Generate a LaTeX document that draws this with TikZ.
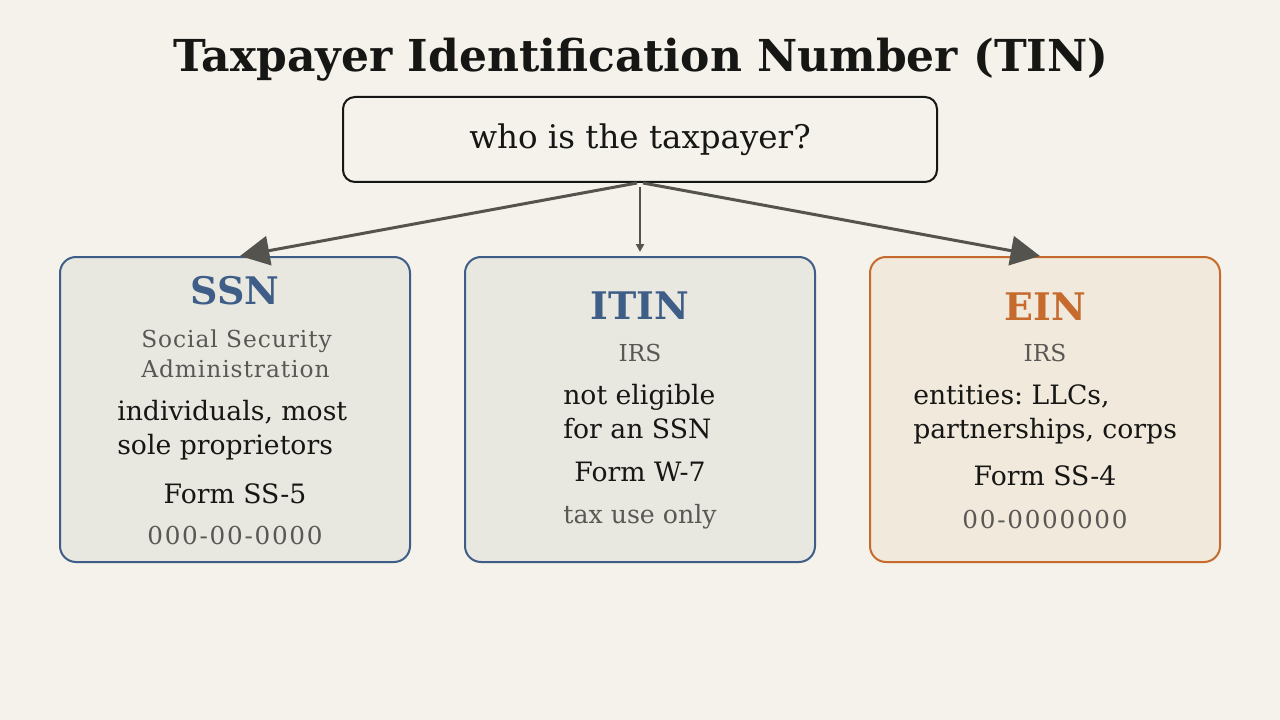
\documentclass[tikz,border=0pt]{standalone}
\usepackage{fontspec}
\setmainfont{DejaVu Serif}
\usetikzlibrary{arrows.meta}
\definecolor{bg}{HTML}{F4F2EB}
\definecolor{ink}{HTML}{161614}
\definecolor{blu}{HTML}{3F5E87}
\definecolor{org}{HTML}{C66A2E}
\definecolor{gry}{HTML}{55534E}
\definecolor{txtg}{HTML}{5A5855}
\definecolor{fillb}{HTML}{E8E7E0}
\definecolor{fillo}{HTML}{F1E9DC}
\newcommand{\pxf}[1]{\fontsize{#1}{#1}\selectfont}
\frenchspacing
\begin{document}
\begin{tikzpicture}[x=0.75pt,y=-0.75pt,
  card/.style={draw, line width=1.5pt, rounded corners=12pt, minimum width=262.5pt, minimum height=228.75pt, inner sep=0pt},
  bcard/.style={card, draw=blu, fill=fillb},
  ocard/.style={card, draw=org, fill=fillo},
  ttl/.style={anchor=base, inner sep=0pt, font=\pxf{28.5pt}\bfseries},
  sub/.style={anchor=base, inner sep=0pt, text=txtg, font=\pxf{17.5pt}},
  subl/.style={anchor=base west, inner sep=0pt, text=txtg, font=\pxf{17.5pt}\addfontfeature{LetterSpace=4}},
  body/.style={anchor=base west, inner sep=0pt, text=ink, font=\pxf{20pt}},
  bodyc/.style={anchor=base, inner sep=0pt, text=ink, font=\pxf{20pt}},
  idn/.style={anchor=base, inner sep=0pt, text=txtg, font=\pxf{18.5pt}\addfontfeature{LetterSpace=7}},
  bigarr/.style={draw=gry, line width=2.25pt, -{Triangle[length=22pt,width=22pt]}},
  smallarr/.style={draw=gry, line width=1.5pt, -{Triangle[length=6pt,width=6pt]}}
]
\path[use as bounding box, fill=bg] (0,0) rectangle (1280,720);

\node[anchor=base, inner sep=0pt, text=ink, font=\pxf{33pt}\bfseries] (title) at (641,72) {Taxpayer Identification Number (TIN)};

\node[draw=ink, line width=1.5pt, rounded corners=9pt, fill=bg, minimum width=445.5pt, minimum height=63.75pt, inner sep=0pt] (q) at (640,139.5) {};
\node[anchor=base, inner sep=0pt, text=ink, font=\pxf{24.4pt}] (qt) at (640,149) {who is the taxpayer?};

\node[bcard] (ssn) at (235,409.5) {};
\node[bcard] (itin) at (640,409.5) {};
\node[ocard] (ein) at (1045,409.5) {};

% SSN
\node[ttl, text=blu] (ssnt) at (235,304) {SSN};
\node[subl] (ssn1) at (141,347) {Social Security};
\node[subl] (ssn2) at (141,377) {Administration};
\node[body] (ssn3) at (117,420) {individuals, most};
\node[body] (ssn4) at (117,454) {sole proprietors};
\node[bodyc] (ssn5) at (235,503) {Form SS-5};
\node[idn] (ssn6) at (235,544) {000-00-0000};

% ITIN
\node[ttl, text=blu] (itint) at (640,319) {ITIN};
\node[sub] (itin1) at (640,361) {IRS};
\node[body] (itin2) at (563,404) {not eligible};
\node[body] (itin3) at (563,438) {for an SSN};
\node[bodyc] (itin4) at (640,481) {Form W-7};
\node[sub, font=\pxf{18.9pt}] (itin5) at (640,523) {tax use only};

% EIN
\node[ttl, text=org] (eint) at (1045,320) {EIN};
\node[sub] (ein1) at (1045,361) {IRS};
\node[body] (ein2) at (913,404) {entities: LLCs,};
\node[body] (ein3) at (913,438) {partnerships, corps};
\node[bodyc] (ein4) at (1045,485) {Form SS-4};
\node[idn] (ein5) at (1045,528) {00-0000000};

% connectors
\coordinate (qa) at (637,183);
\coordinate (qb) at (643,183);
\coordinate (sa) at (240,256);
\coordinate (ea) at (1040,256);
\coordinate (m1) at (640,187);
\coordinate (m2) at (640,252);
\draw[bigarr] (qa) -- (sa);
\draw[bigarr] (qb) -- (ea);
\draw[smallarr] (m1) -- (m2);
\end{tikzpicture}
\end{document}
